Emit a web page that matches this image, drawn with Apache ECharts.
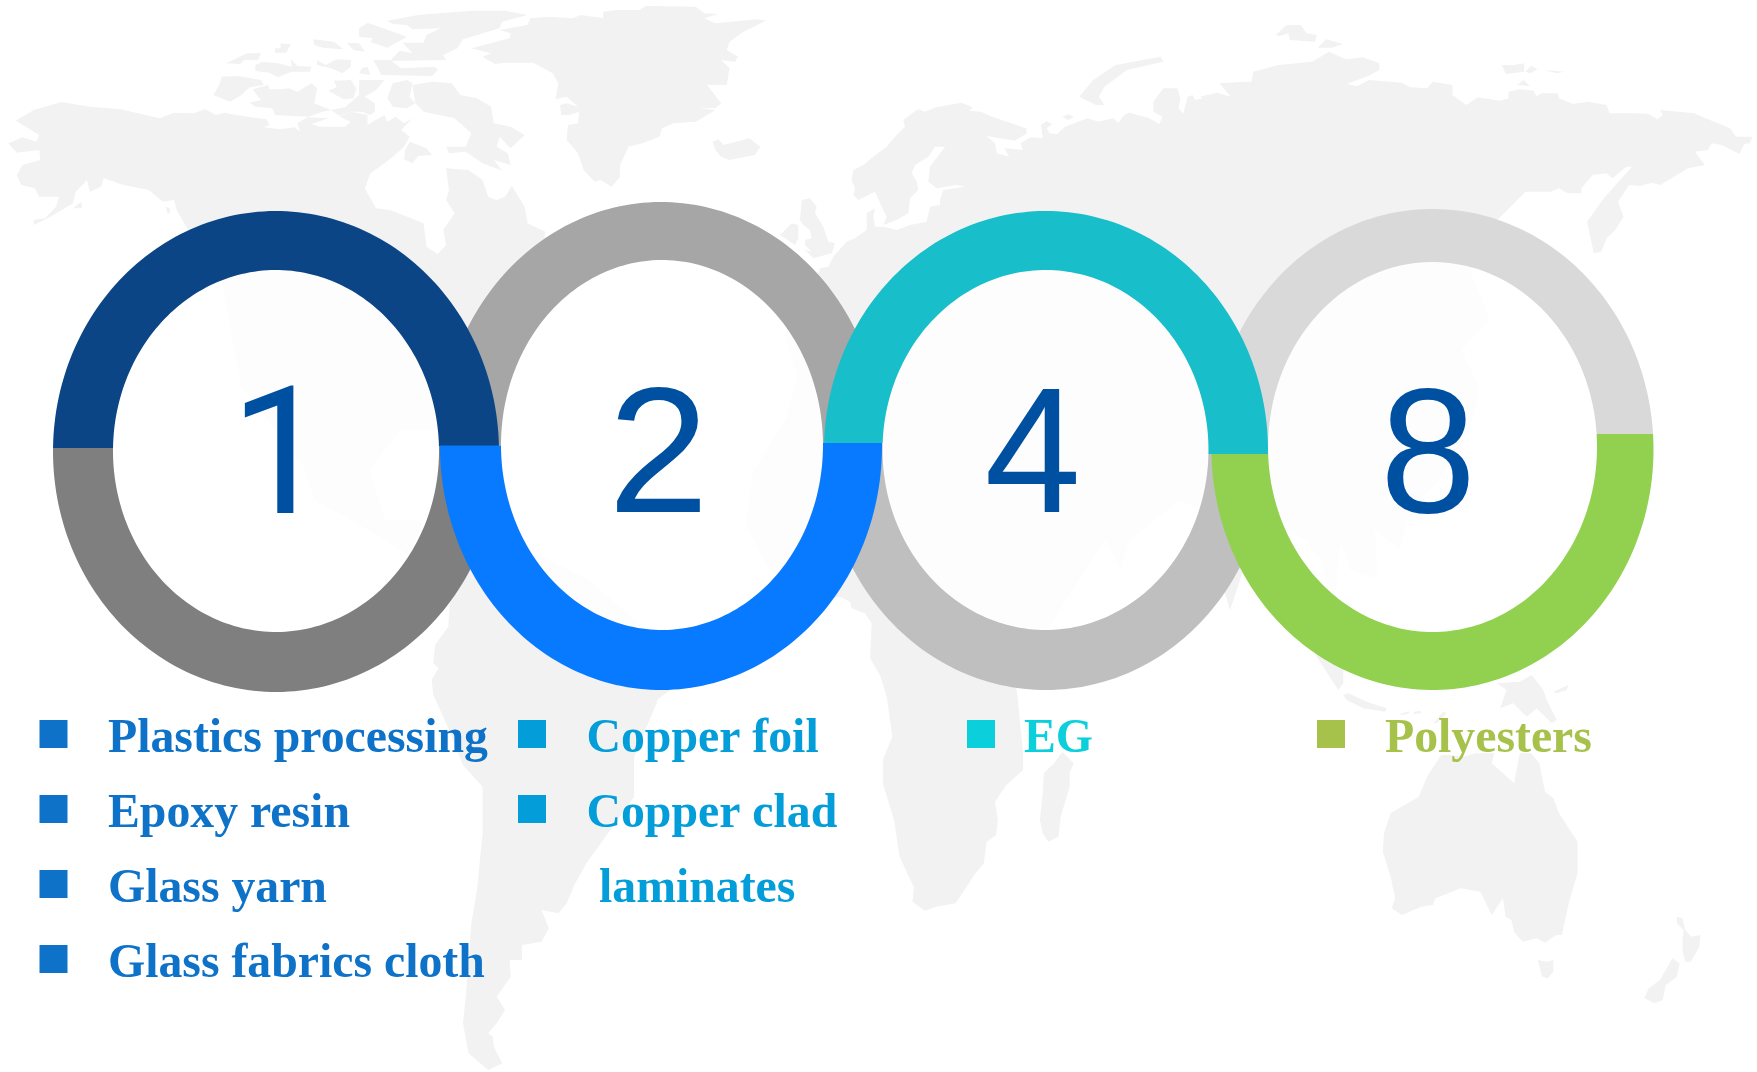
<!DOCTYPE html>
<html>
<head>
<meta charset="utf-8">
<style>html,body{margin:0;padding:0;background:#fff}#main{width:1757px;height:1072px}</style>
<script src="https://cdn.jsdelivr.net/npm/echarts@6/dist/echarts.min.js"></script>
</head>
<body>
<div id="main"></div>
<script>
// Ring captions and split levels
const ringNumbers = ['1', '2', '4', '8'];
const ringSplitLeft = [448, 445.5, 443, 454];
const ringSplitRight = [446, 443, 454, 434];

// Material lists under the rings
const groupOneItems = ['Plastics processing', 'Epoxy resin', 'Glass yarn', 'Glass fabrics cloth'];
const groupTwoItems = ['Copper foil', 'Copper clad', 'laminates'];
const groupThreeItems = ['EG'];
const groupFourItems = ['Polyesters'];

// Ring palette: upper and lower halves
const upperColors = ['#0b4586', '#a6a6a6', '#18bec9', '#d9d9d9'];
const lowerColors = ['#7f7f7f', '#077aff', '#bfbfbf', '#92d14f'];
const digitColor = '#0050a2';

// Ring geometry in page units
const ringShapes = [
  { cx: 276, cy: 451.5, rx: 223, ry: 240.5, icx: 276, icy: 451, irx: 163, iry: 181 },
  { cx: 661, cy: 446, rx: 221, ry: 244, icx: 662, icy: 445, irx: 161, iry: 185 },
  { cx: 1046, cy: 450.5, rx: 222, ry: 239.5, icx: 1045.5, icy: 450, irx: 163, iry: 180 },
  { cx: 1432.5, cy: 449.5, rx: 221, ry: 240.5, icx: 1432.5, icy: 447, irx: 164.5, iry: 185 }
];
// The "1" is set in Roboto for its footless figure; the others in Liberation Sans
const digitPlacement = [
  { x: 230, baseline: 516.5, family: 'Roboto', scaleX: 1 },
  { x: 608, baseline: 511, family: 'Liberation Sans', scaleX: 1.02 },
  { x: 984.5, baseline: 511, family: 'Liberation Sans', scaleX: 0.975 },
  { x: 1380, baseline: 510.5, family: 'Liberation Sans', scaleX: 0.97 }
];
const digitFontSize = 178;

const legendFontSize = 48, legendScaleX = 0.995;
const legendColumns = [
  { items: groupOneItems, color: '#0d72c8', markX: 39.5, textX: 108, skipMark: [] },
  { items: groupTwoItems, color: '#039ed9', markX: 518, textX: 586.5, skipMark: [2], indent: { 2: 12.5 } },
  { items: groupThreeItems, color: '#0bd0dc', markX: 967, textX: 1024, skipMark: [] },
  { items: groupFourItems, color: '#a6c24a', markX: 1317, textX: 1385, skipMark: [] }
];
const legendFirstBaseline = 751.5, legendRowStep = 75, legendMarkSize = 28, legendMarkRise = 31.5;

// Base-map outlines are digitised on several sheets; each sheet has its own origin and scale.
const sheets = {
  north: { x0: 0, y0: 0, sx: 1.782, sy: 3 },
  asia: { x0: 880, y0: 0, sx: 1.782, sy: 3 },
  andes: { x0: 0, y0: 690, sx: 1.782, sy: 3 },
  pacific: { x0: 880, y0: 660, sx: 1.782, sy: 3 },
  europe: { x0: 740, y0: 110, sx: 3, sy: 3 },
  caribbean: { x0: 400, y0: 600, sx: 3, sy: 3 },
  guinea: { x0: 820, y0: 580, sx: 3, sy: 3 },
  sunda: { x0: 1280, y0: 640, sx: 3, sy: 3 },
  page: { x0: 0, y0: 0, sx: 1, sy: 1 }
};

const americasCoast = [
  ['north', [[28,362],[60,330],[110,306],[160,320],[215,328],[285,355],[310,338],[345,340],[365,328],[385,345],[400,338],[440,350],[475,358],[480,375],[470,382],[500,388],[525,382],[535,395],[530,370],[548,352],[585,355],[555,372],[570,380],[615,380],[625,365],[605,350],[625,335],[655,345],[655,375],[640,395],[660,370],[685,345],[690,365],[705,350],[720,370],[735,355],[715,390],[730,410],[720,440],[700,470],[685,490],[660,520],[650,565],[670,625],[695,630],[755,670],[760,740],[780,762],[795,735],[790,690],[810,640],[795,600],[800,570],[795,505],[835,510],[860,540],[870,590],[885,600],[900,590],[912,558],[935,620],[940,670],[972,695]]],
  ['page', [[545,235],[535,270],[520,300],[505,340],[480,375],[465,420],[480,470],[470,480],[445,430],[400,430],[370,470],[385,520],[420,520],[430,560],[450,570],[470,555],[520,545],[590,580],[640,625],[680,650],[670,690],[657,700]]],
  ['andes', [[1170,40],[1130,200],[1130,320],[1045,520],[1025,580],[1010,640],[995,670],[965,660],[978,715],[965,755],[930,765],[930,810],[908,810],[910,860],[885,920],[900,960],[885,1000],[870,1030],[878,1040],[880,1070],[895,1120],[870,1140],[835,1090],[825,1000],[830,920],[840,700],[850,600],[860,430],[860,290],[825,225],[795,100]]],
  ['caribbean', [[100,285],[95,240],[115,205],[100,190],[105,135],[145,80],[150,0]]],
  ['page', [[450,600],[430,575],[404,552],[359,525],[314,500],[303,466],[241,387],[222,283]]],
  ['north', [[335,690],[315,630],[310,600],[290,605],[265,570],[220,555],[185,535],[180,560],[160,575],[155,540],[135,575],[130,610],[90,650],[60,675],[60,660],[80,655],[100,620],[105,590],[70,590],[62,565],[38,555],[30,525],[40,495],[72,480],[70,450],[30,458],[15,430],[40,412],[65,425],[70,405]]]
];
const americasLakes = [
  ['north', [[402,410],[435,400],[450,410],[440,430],[425,447],[403,440],[412,420]]],
  ['north', [[455,535],[475,510],[495,515],[515,495],[518,505],[483,540]]],
  ['north', [[585,490],[595,480],[597,495],[590,498]]],
  ['north', [[520,575],[530,574],[532,580],[520,580]]],
  ['north', [[580,625],[590,608],[585,630]]],
  ['north', [[295,620],[303,625],[303,640],[298,640]]],
  ['north', [[130,625],[145,605],[146,625]]],
  ['page', [[488,273],[503,262],[505,267],[493,276]]]
];
const eurafricaCoast = [
  ['asia', [[68,328],[80,335],[100,322],[145,308],[165,322],[160,332],[180,335],[195,347],[260,385],[262,400],[240,422],[190,408],[205,430],[208,460],[230,470],[222,445],[255,450],[250,430],[268,412],[290,415],[287,375],[297,363],[307,373],[297,385],[302,400],[315,403],[330,380],[370,355],[390,365],[415,355],[425,368],[435,345],[445,338],[480,355],[498,372],[503,350],[487,335],[487,305],[505,265],[530,265],[535,295],[532,325],[545,350],[565,348],[585,365],[578,375],[570,358],[555,360],[545,400],[527,415],[527,405],[542,370],[540,345],[548,290],[557,285],[562,300],[575,295],[570,290],[600,278],[625,290],[605,250],[650,245],[662,245],[665,215],[710,195],[770,185],[800,155],[830,178],[860,172],[890,190],[890,210],[870,228],[832,252],[850,258],[872,240],[930,248],[945,262],[975,265],[985,245],[1020,255],[1020,285],[1045,315],[1065,292],[1105,302],[1120,295],[1120,275],[1140,268],[1165,272],[1170,290],[1178,280],[1208,280],[1210,295],[1235,312],[1262,305],[1295,315],[1300,340],[1345,340],[1370,342],[1385,358],[1395,345],[1390,330],[1450,340],[1515,385],[1525,410],[1555,410],[1550,430],[1540,432],[1532,462],[1500,435],[1482,430],[1475,450],[1452,455],[1470,495],[1440,505],[1390,555],[1375,548],[1355,558],[1335,555],[1315,605],[1325,650],[1310,690],[1295,715],[1285,755],[1272,760],[1260,665],[1290,595],[1340,500],[1330,500],[1305,535],[1295,520],[1270,525],[1250,565],[1250,580],[1225,580],[1210,565],[1195,575],[1150,575],[1100,660]]],
  ['page', [[1470,270],[1490,320],[1462,350],[1480,390],[1470,430],[1440,480],[1410,510],[1400,550],[1375,530],[1378,580],[1350,570],[1340,540],[1335,610],[1320,560],[1305,540],[1260,520],[1230,610],[1200,510],[1180,500],[1130,540],[1120,570],[1105,540],[1060,610]]],
  ['pacific', [[243,85],[245,110],[255,280],[255,330],[225,375],[205,425],[210,480],[207,525],[190,545],[185,610],[170,640],[135,730],[100,740],[80,752],[58,725],[60,680],[35,590],[25,480],[5,370],[5,300],[22,230],[12,110]]],
  ['guinea', [[180,285],[150,235],[155,130],[135,100],[95,85],[90,65],[60,50]]],
  ['page', [[825,600],[769,570],[746,525],[752,473],[786,418],[797,376],[785,340],[790,300],[815,285]]],
  ['europe', [[240,475],[265,470],[280,440],[320,395],[345,385],[380,360],[380,310],[405,295],[400,320],[405,350],[430,350],[470,360],[510,345],[560,335],[570,290],[600,285],[600,270],[610,240],[675,230],[650,225],[590,235],[565,215],[570,170],[615,110],[585,110],[565,140],[525,165],[515,190],[530,215],[535,240],[510,265],[505,310],[470,330],[430,345],[440,320],[425,290],[405,245],[355,270],[340,255],[345,235],[335,210],[340,180],[370,165],[400,140],[440,110],[465,80],[495,50],[490,30],[530,0]]]
];
const eurasiaLakes = [
  ['asia', [[145,490],[148,510],[160,505],[152,530],[142,525],[150,515]]],
  ['asia', [[175,525],[190,540],[178,565],[165,540]]],
  ['asia', [[205,497],[215,510],[220,535],[205,540],[200,515]]],
  ['asia', [[232,580],[240,600],[230,603]]]
];
const islandOutlines = {
  Greenland: ['north', [[840,145],[908,115],[910,100],[890,90],[940,75],[945,55],[975,50],[1020,55],[1035,45],[1075,55],[1075,35],[1100,30],[1140,30],[1150,18],[1240,20],[1255,40],[1280,42],[1255,55],[1275,70],[1350,58],[1365,62],[1325,95],[1300,125],[1295,150],[1315,170],[1310,185],[1285,180],[1300,205],[1295,255],[1260,255],[1285,310],[1275,325],[1245,325],[1275,330],[1240,365],[1200,370],[1180,385],[1175,410],[1145,430],[1120,440],[1105,495],[1105,530],[1090,560],[1070,540],[1060,545],[1040,510],[1030,460],[1010,420],[1012,375],[1030,370],[1032,335],[1015,345],[1000,345],[998,315],[1010,310],[1030,320],[1010,290],[990,298],[995,250],[985,220],[950,188],[900,188],[882,192],[860,170],[875,160]]],
  Ellesmere: ['north', [[690,62],[745,45],[840,32],[900,32],[940,45],[895,65],[890,85],[840,110],[825,118],[815,145],[790,165],[795,180],[695,183],[712,152],[735,160],[718,128],[755,128],[760,105],[785,85],[735,88],[725,75],[700,72]]],
  Axel: ['north', [[655,68],[725,110],[690,143],[660,125],[665,115],[640,110],[640,85]]],
  Ringnes: ['north', [[558,118],[595,125],[612,148],[575,143],[560,135]]],
  Cornwall: ['north', [[618,128],[640,130],[650,155],[630,150]]],
  Mackenzie: ['north', [[500,130],[518,133],[510,158],[490,158],[490,145],[500,145]]],
  Eglinton: ['north', [[403,190],[440,160],[465,160],[460,180],[435,180],[428,192]]],
  Melville: ['north', [[468,185],[495,190],[520,200],[518,178],[530,198],[555,200],[552,215],[520,215],[495,232],[480,218],[455,213],[455,195]]],
  Bathurst: ['north', [[565,180],[580,195],[600,178],[625,180],[625,200],[610,220],[590,205],[565,195]]],
  Devon: ['north', [[665,180],[695,180],[715,205],[775,200],[780,210],[770,228],[680,225],[672,200]]],
  Cornwallis: ['north', [[645,205],[655,200],[660,225],[640,220]]],
  Banks: ['north', [[395,230],[425,228],[465,240],[470,255],[445,262],[430,285],[410,305],[380,285],[390,258]]],
  Victoria: ['north', [[450,268],[478,255],[480,268],[500,268],[515,265],[530,275],[545,260],[555,250],[565,265],[560,310],[590,330],[575,335],[550,350],[490,345],[485,325],[455,320],[445,308],[465,300]]],
  Somerset: ['north', [[595,242],[625,240],[635,265],[630,295],[612,298],[585,272],[600,262]]],
  PrinceOfWales: ['north', [[640,240],[685,240],[670,270],[650,290],[668,310],[668,335],[660,345],[645,335],[625,335],[605,348],[590,330],[615,322],[640,285]]],
  Baffin: ['north', [[735,255],[770,245],[805,250],[820,285],[850,295],[875,320],[880,370],[910,380],[935,405],[910,445],[890,410],[885,440],[905,460],[910,495],[880,480],[895,512],[860,490],[830,455],[800,460],[795,440],[830,440],[840,400],[810,355],[755,335],[740,310]]],
  Bylot: ['north', [[690,295],[700,250],[725,240],[735,250],[730,290],[740,310],[725,325],[700,320]]],
  Southampton: ['north', [[730,425],[760,445],[770,465],[745,468],[735,490],[720,478],[722,450]]],
  Iceland: ['north', [[1270,425],[1280,418],[1290,435],[1335,415],[1355,440],[1345,465],[1300,480],[1285,470],[1275,450]]],
  Britain: ['europe', [[180,330],[185,270],[210,265],[230,290],[225,310],[250,350],[265,395],[285,400],[275,430],[220,445],[195,420],[215,425],[195,405],[195,390],[215,385],[210,360],[190,345]]],
  Ireland: ['europe', [[120,375],[155,340],[175,345],[175,385],[165,405]]],
  NovayaZemlya: ['asia', [[355,290],[380,240],[420,195],[500,170],[505,185],[440,210],[400,260],[390,290],[400,315],[385,315]]],
  Kolguev: ['asia', [[325,350],[337,342],[345,352],[335,360]]],
  Vaigach: ['asia', [[622,325],[630,308],[634,322]]],
  Spitsbergen: ['asia', [[705,105],[725,75],[750,75],[760,100],[778,105],[775,125],[730,120],[728,100],[712,108]]],
  Nordaust: ['asia', [[780,143],[795,118],[825,132],[805,143]]],
  Severny: ['asia', [[1108,195],[1130,195],[1148,190],[1148,215],[1115,222]]],
  Bolshevik: ['asia', [[1150,215],[1160,197],[1172,208],[1158,220]]],
  Komsomolets: ['asia', [[1185,210],[1220,215],[1205,220]]],
  Kotelny: ['asia', [[1135,255],[1147,240],[1158,258]]],
  Madagascar: ['pacific', [[325,275],[345,310],[338,340],[338,380],[322,470],[318,530],[300,545],[290,520],[285,480],[290,400],[292,340],[310,310]]],
  Australia: ['pacific', [[1015,285],[1000,285],[975,350],[960,410],[910,460],[898,520],[896,575],[910,650],[918,715],[912,745],[930,765],[965,740],[985,735],[990,715],[1035,685],[1070,695],[1090,765],[1110,715],[1115,770],[1125,780],[1130,815],[1145,845],[1170,835],[1185,848],[1205,825],[1215,825],[1228,725],[1243,640],[1243,545],[1210,460],[1200,415],[1185,395],[1175,310],[1160,280],[1140,280],[1130,370],[1090,310],[1095,280],[1060,280],[1040,290]]],
  Tasmania: ['pacific', [[1172,900],[1190,905],[1200,900],[1200,935],[1190,955],[1180,950]]],
  NorthIsland: ['pacific', [[1420,770],[1430,775],[1435,810],[1445,830],[1462,825],[1460,860],[1445,905],[1435,905],[1430,870],[1430,840],[1432,810],[1420,790]]],
  SouthIsland: ['pacific', [[1412,895],[1425,910],[1420,950],[1400,975],[1395,1020],[1380,1030],[1362,1015],[1370,985],[1390,960]]],
  Sumatra: ['sunda', [[95,0],[110,50],[175,150],[190,130],[190,60],[190,0]]],
  Java: ['sunda', [[190,165],[205,160],[260,185],[320,205],[315,215],[250,205],[200,180]]],
  NewGuinea: ['sunda', [[650,130],[720,125],[755,105],[790,150],[800,180],[830,240],[815,250],[770,205],[740,230],[700,190],[660,205],[680,150]]],
  Solomon: ['sunda', [[820,155],[865,135],[860,150],[830,160]]],
  Timor: ['sunda', [[460,250],[490,215],[500,220],[470,250]]],
  Flores: ['sunda', [[360,222],[385,214],[388,220],[364,226]]],
  Sumba: ['sunda', [[400,216],[420,212],[424,220],[404,222]]]
};

const MAP_NAME = 'worldBase';

// Convert a sheet trace into map coordinates; y is negated because geo treats it as latitude.
function toMap(sheetName, pts) {
  const s = sheets[sheetName];
  return pts.map(p => [s.x0 + p[0] / s.sx, -(s.y0 + p[1] / s.sy)]);
}
function ringFrom(segments) {
  return segments.reduce((all, seg) => all.concat(toMap(seg[0], seg[1])), []);
}
function closeRing(r) { return r.concat([r[0]]); }
function polygonFeature(name, outer, holes) {
  return {
    type: 'Feature',
    properties: { name },
    geometry: { type: 'Polygon', coordinates: [closeRing(outer)].concat((holes || []).map(closeRing)) }
  };
}
const worldFeatures = [
  polygonFeature('Americas', ringFrom(americasCoast), americasLakes.map(l => toMap(l[0], l[1]))),
  polygonFeature('Eurafrasia', ringFrom(eurafricaCoast), eurasiaLakes.map(l => toMap(l[0], l[1])))
];
Object.keys(islandOutlines).forEach(name => {
  const o = islandOutlines[name];
  worldFeatures.push(polygonFeature(name, toMap(o[0], o[1])));
});
echarts.registerMap(MAP_NAME, { type: 'FeatureCollection', features: worldFeatures });

// Angle on an ellipse (from the +x axis, screen y down) at a given y, on the left or right side
function sideAngle(cy, ry, y, side) {
  const a = Math.asin(Math.max(-1, Math.min(1, (y - cy) / ry)));
  return side === 'right' ? a : Math.PI - a;
}
function arcPoints(cx, cy, rx, ry, from, to, steps) {
  const out = [];
  for (let i = 0; i <= steps; i++) {
    const t = from + (to - from) * i / steps;
    out.push([cx + rx * Math.cos(t), cy + ry * Math.sin(t)]);
  }
  return out;
}
// Outline of one half of a ring: outer arc forward, inner arc back
function halfRing(index, upper) {
  const g = ringShapes[index];
  const yL = ringSplitLeft[index], yR = ringSplitRight[index];
  const oL = sideAngle(g.cy, g.ry, yL, 'left'), oR = sideAngle(g.cy, g.ry, yR, 'right');
  const iL = sideAngle(g.icy, g.iry, yL, 'left'), iR = sideAngle(g.icy, g.iry, yR, 'right');
  const steps = 120;
  if (upper) {
    // left side, over the top (increasing angle past PI to 2*PI + right angle)
    return arcPoints(g.cx, g.cy, g.rx, g.ry, oL, 2 * Math.PI + oR, steps)
      .concat(arcPoints(g.icx, g.icy, g.irx, g.iry, 2 * Math.PI + iR, iL, steps));
  }
  return arcPoints(g.cx, g.cy, g.rx, g.ry, oR, oL, steps)
    .concat(arcPoints(g.icx, g.icy, g.irx, g.iry, iL, iR, steps));
}

// Back halves are drawn first, front halves interlock over the neighbouring ring
const ringIndexes = ringNumbers.map((_, i) => i);
const backHalves = ringIndexes.map(i => ({ index: i, upper: i % 2 === 1 }));
const frontHalves = ringIndexes.map(i => ({ index: i, upper: i % 2 === 0 }));

function halvesSeries(name, halves, z) {
  return {
    type: 'custom', name, coordinateSystem: 'cartesian2d', silent: true, z, clip: false,
    data: halves.map(h => [h.index, h.upper ? 1 : 0]),
    renderItem(params, api) {
      const i = api.value(0), upper = api.value(1) === 1;
      return {
        type: 'polygon',
        shape: { points: halfRing(i, upper).map(p => api.coord(p)) },
        style: { fill: upper ? upperColors[i] : lowerColors[i] }
      };
    }
  };
}

const legendRows = [];
legendColumns.forEach((col, c) => col.items.forEach((label, r) => legendRows.push({ c, r, label })));

// Vertical-middle text anchors sit a font-dependent fraction of an em above the baseline
const middleRise = { 'Liberation Serif': 0.245, 'Liberation Sans': 0.27, Roboto: 0.27 };
function textAt(x, baseline, text, size, family, weight, fill, scaleX) {
  return {
    type: 'text', x, y: baseline - middleRise[family] * size, scaleX, scaleY: 1,
    style: { text, fill, font: weight + ' ' + size + 'px "' + family + '"', align: 'left', verticalAlign: 'middle' }
  };
}

const option = {
  animation: false,
  backgroundColor: '#ffffff',
  grid: { left: 0, right: 0, top: 0, bottom: 0, show: false },
  xAxis: { type: 'value', min: 0, max: 1757, show: false },
  yAxis: { type: 'value', min: 0, max: 1072, inverse: true, show: false },
  geo: {
    map: MAP_NAME, silent: true, roam: false, z: 0, aspectScale: 1,
    boundingCoords: [[0, 0], [1757, -1072]],
    left: 0, top: 0, width: 1757, height: 1072,
    label: { show: false },
    itemStyle: { areaColor: '#f2f2f2', borderWidth: 0, borderColor: '#f2f2f2' },
    emphasis: { disabled: true }
  },
  series: [
    {
      type: 'custom', name: 'ring interiors', coordinateSystem: 'cartesian2d', silent: true, z: 3, clip: false,
      data: ringIndexes.map(i => [i]),
      renderItem(params, api) {
        const g = ringShapes[api.value(0)];
        const c = api.coord([g.icx, g.icy]);
        return { type: 'ellipse', shape: { cx: c[0], cy: c[1], rx: g.irx, ry: g.iry }, style: { fill: 'rgba(255,255,255,0.85)' } };
      }
    },
    halvesSeries('back halves', backHalves, 4),
    halvesSeries('front halves', frontHalves, 5),
    {
      type: 'custom', name: 'ring numbers', coordinateSystem: 'cartesian2d', silent: true, z: 6, clip: false,
      data: ringIndexes.map(i => [i]),
      renderItem(params, api) {
        const i = api.value(0), d = digitPlacement[i];
        const c = api.coord([d.x, d.baseline]);
        return textAt(c[0], c[1], ringNumbers[i], digitFontSize, d.family, 'normal', digitColor, d.scaleX);
      }
    },
    {
      type: 'custom', name: 'material lists', coordinateSystem: 'cartesian2d', silent: true, z: 7, clip: false,
      data: legendRows.map((row, k) => [k]),
      renderItem(params, api) {
        const row = legendRows[api.value(0)], col = legendColumns[row.c];
        const baseline = legendFirstBaseline + row.r * legendRowStep;
        const indent = (col.indent && col.indent[row.r]) || 0;
        const t = api.coord([col.textX + indent, baseline]);
        const children = [textAt(t[0], t[1], row.label, legendFontSize, 'Liberation Serif', 'bold', col.color, legendScaleX)];
        if (col.skipMark.indexOf(row.r) < 0) {
          const m = api.coord([col.markX, baseline - legendMarkRise]);
          children.push({ type: 'rect', shape: { x: m[0], y: m[1], width: legendMarkSize, height: legendMarkSize }, style: { fill: col.color } });
        }
        return { type: 'group', children };
      }
    }
  ]
};

const chart = echarts.init(document.getElementById('main'), null, { renderer: 'canvas' });
chart.setOption(option);
</script>
</body>
</html>
